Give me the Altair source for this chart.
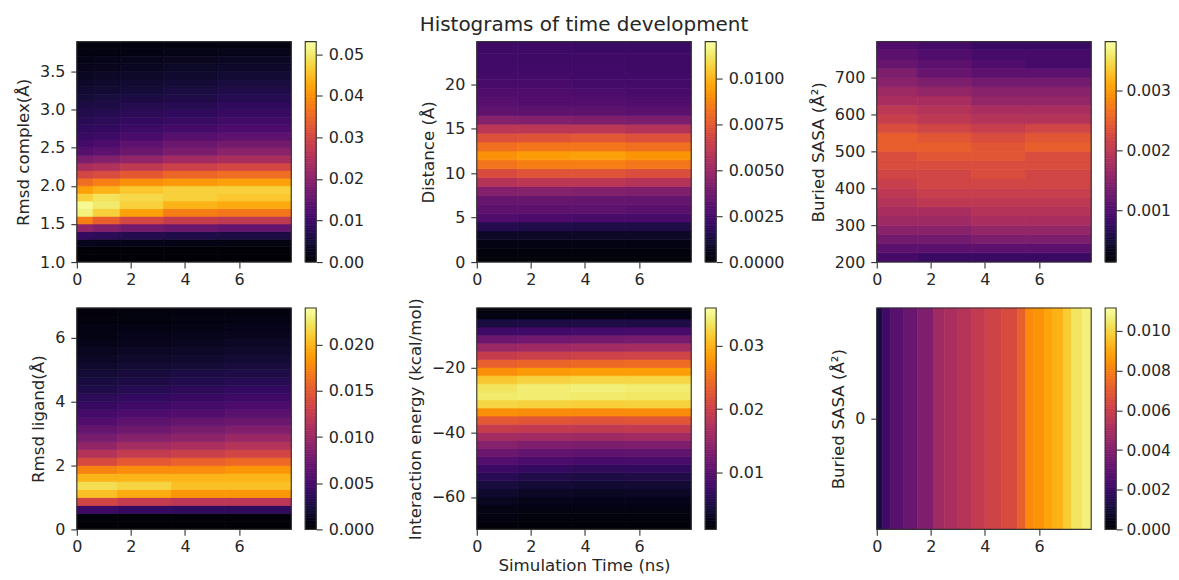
import altair as alt
import numpy as np
import pandas as pd

FONT = "DejaVu Sans"
INK = "#262626"
FRAME = "#333333"

# ---- Rmsd complex: rows bottom to top, columns across the time bins
t1 = [0, 0.6, 1.6, 3.2, 5.2, 7.93]
y1 = [1.0, 1.1, 1.2, 1.3, 1.4, 1.5, 1.6, 1.7, 1.8, 1.9, 2.0, 2.1, 2.2, 2.3, 2.4, 2.5, 2.6, 2.7, 2.8, 2.9,
      3.0, 3.1, 3.2, 3.3, 3.4, 3.5, 3.6, 3.7, 3.8, 3.89]
z1 = [
    [.0002, .0002, .0002, .0002, .0002],
    [.0004, .0004, .0004, .0004, .0004],
    [.0025, .0022, .002, .0018, .0016],
    [.009, .008, .007, .0065, .006],
    [.021, .019, .017, .016, .015],
    [.038, .034, .030, .028, .027],
    [.051, .047, .042, .038, .037],
    [.052, .050, .047, .044, .043],
    [.047, .049, .048, .047, .046],
    [.042, .044, .046, .047, .047],
    [.036, .038, .040, .041, .042],
    [.030, .031, .033, .035, .036],
    [.024, .025, .027, .029, .030],
    [.018, .019, .021, .023, .024],
    [.013, .014, .016, .018, .020],
    [.011, .012, .014, .016, .017],
    [.0095, .010, .0115, .013, .014],
    [.0085, .009, .010, .011, .012],
    [.0075, .008, .009, .0095, .0105],
    [.0068, .0072, .008, .0085, .0095],
    [.006, .0063, .007, .0075, .0085],
    [.0052, .0056, .006, .0066, .0075],
    [.0045, .0048, .0052, .0058, .0065],
    [.0038, .0042, .0045, .005, .0056],
    [.0032, .0035, .0038, .0042, .0048],
    [.0026, .0028, .0032, .0036, .004],
    [.002, .0022, .0025, .0028, .0032],
    [.0015, .0016, .0018, .0021, .0024],
    [.001, .0011, .0013, .0014, .0016],
]

# ---- Distance
t2 = [0, 1.5, 3.5, 5.5, 7.93]
y2 = [0, .5, 1.5, 2.5, 3.5, 4.5, 5.5, 6.5, 7.5, 8.5, 9.5, 10.5, 11.5, 12.5, 13.5, 14.5, 15.5, 16.5, 17.5, 18.5,
      19.5, 20.5, 21.5, 22.5, 23.5, 24.8]
z2 = [
    [.0001, .0001, .0001, .0001],
    [.0002, .0002, .0002, .0002],
    [.0004, .0004, .0004, .0004],
    [.0008, .0008, .0008, .0008],
    [.0016, .0015, .0014, .0014],
    [.0028, .0027, .0026, .0026],
    [.0032, .0032, .0032, .0031],
    [.0035, .0035, .0034, .0034],
    [.0043, .0044, .0043, .0042],
    [.0058, .0060, .0060, .0058],
    [.0070, .0073, .0073, .0071],
    [.0083, .0086, .0086, .0084],
    [.0091, .0094, .0095, .0092],
    [.0082, .0084, .0084, .0082],
    [.0072, .0073, .0074, .0072],
    [.0060, .0060, .0060, .0058],
    [.0044, .0043, .0042, .0041],
    [.0033, .0032, .0032, .0031],
    [.0030, .0029, .0029, .0028],
    [.0028, .0028, .0027, .0026],
    [.0026, .0026, .0025, .0025],
    [.0025, .0025, .0024, .0024],
    [.0024, .0024, .0024, .0023],
    [.0024, .0023, .0023, .0023],
    [.0023, .0023, .0022, .0022],
]

# ---- Buried SASA
t3 = [0, 1.5, 3.5, 5.5, 7.93]
y3 = [200, 225, 250, 275, 300, 325, 350, 375, 400, 425, 450, 475, 500, 525, 550, 575, 600, 625, 650, 675,
      700, 725, 750, 775, 797]
z3 = [
    [.0009, .0008, .0008, .0008],
    [.0011, .0011, .0011, .0011],
    [.0013, .0013, .0014, .0014],
    [.0015, .0015, .0016, .0016],
    [.0017, .0017, .0018, .0018],
    [.0018, .0018, .0019, .0019],
    [.0019, .0020, .0020, .0020],
    [.0020, .0021, .0021, .0021],
    [.0021, .0022, .0022, .0022],
    [.0022, .0022, .0023, .0022],
    [.0023, .0023, .0023, .0023],
    [.0023, .0024, .0024, .0023],
    [.0025, .0025, .0024, .0025],
    [.0025, .0024, .0023, .0024],
    [.0023, .0022, .0021, .0022],
    [.0021, .0020, .0019, .0019],
    [.0020, .0019, .0018, .0018],
    [.0018, .0018, .0016, .0016],
    [.0017, .0016, .0015, .0015],
    [.0015, .0014, .0013, .0013],
    [.0014, .0012, .0011, .0011],
    [.0012, .0011, .0010, .0009],
    [.0011, .0010, .0009, .0009],
    [.0010, .0009, .0008, .0008],
]

# ---- Rmsd ligand
t4 = [0, 1.5, 3.5, 5.5, 7.93]
y4 = [0, .25, .5, .75, 1, 1.25, 1.5, 1.75, 2, 2.25, 2.5, 2.75, 3, 3.25, 3.5, 3.75, 4, 4.25, 4.5, 4.75,
      5, 5.25, 5.5, 5.75, 6, 6.25, 6.5, 6.75, 6.94]
z4 = [
    [.0001, .0001, .0001, .0001],
    [.0003, .0003, .0003, .0003],
    [.0045, .0040, .0038, .0038],
    [.0135, .0125, .0120, .0120],
    [.0205, .0195, .0185, .0185],
    [.0220, .0215, .0205, .0205],
    [.0200, .0200, .0200, .0200],
    [.0175, .0180, .0180, .0185],
    [.0140, .0150, .0155, .0160],
    [.0115, .0125, .0130, .0135],
    [.0095, .0105, .0110, .0115],
    [.0080, .0088, .0092, .0100],
    [.0068, .0074, .0080, .0085],
    [.0058, .0064, .0068, .0072],
    [.0050, .0055, .0058, .0062],
    [.0042, .0047, .0050, .0054],
    [.0036, .0040, .0043, .0046],
    [.0030, .0034, .0037, .0040],
    [.0026, .0029, .0031, .0034],
    [.0022, .0025, .0027, .0029],
    [.0018, .0021, .0023, .0025],
    [.0015, .0018, .0019, .0021],
    [.0013, .0015, .0016, .0018],
    [.0010, .0012, .0013, .0015],
    [.0008, .0010, .0011, .0012],
    [.0007, .0008, .0009, .0010],
    [.0005, .0006, .0007, .0008],
    [.0004, .0005, .0006, .0006],
]

# ---- Interaction energy
t5 = [0, 1.5, 3.5, 5.5, 7.93]
y5 = [-70, -67.5, -65, -62.5, -60, -57.5, -55, -52.5, -50, -47.5, -45, -42.5, -40, -37.5, -35, -32.5, -30,
      -27.5, -25, -22.5, -20, -17.5, -15, -12.5, -10, -7.5, -5, -2.5, -1.6]
z5 = [
    [.0015, .0014, .0014, .0014],
    [.0019, .0017, .0017, .0017],
    [.0023, .0021, .0020, .0020],
    [.0029, .0026, .0025, .0025],
    [.0037, .0033, .0031, .0032],
    [.0047, .0042, .0040, .0041],
    [.0060, .0054, .0050, .0052],
    [.0075, .0068, .0065, .0067],
    [.0095, .0088, .0085, .0087],
    [.0115, .0108, .0105, .0107],
    [.0138, .0132, .0130, .0132],
    [.0165, .0162, .0160, .0162],
    [.0195, .0192, .0190, .0192],
    [.0228, .0225, .0222, .0225],
    [.0275, .0272, .0270, .0272],
    [.0325, .0322, .0320, .0322],
    [.0340, .0342, .0340, .0338],
    [.0335, .0342, .0345, .0342],
    [.0315, .0322, .0325, .0325],
    [.0275, .0282, .0285, .0285],
    [.0235, .0240, .0242, .0245],
    [.0195, .0200, .0202, .0205],
    [.0155, .0160, .0162, .0165],
    [.0115, .0120, .0122, .0125],
    [.0078, .0080, .0082, .0085],
    [.0048, .0050, .0052, .0052],
    [.0020, .0020, .0021, .0022],
    [.0014, .0014, .0014, .0014],
]

# ---- Buried SASA, single row across time
t6 = [0, .2, .5, 1, 1.5, 2.1, 2.5, 3, 3.5, 4, 4.6, 5.2, 5.5, 5.8, 6.2, 6.5, 6.9, 7.2, 7.6, 7.93]
y6 = [-0.5, 0.5]
z6 = [[.0012, .0022, .0028, .0033, .0039, .0048, .0051, .0054, .0058, .0062, .0065, .0072, .0083, .0085,
       .0089, .0092, .0098, .0104, .0107]]

x_ticks = [0, 2, 4, 6]
panels = [
    dict(t=t1, y=y1, z=z1, title="Rmsd complex(Å)", ydom=[1.0, 3.89], yticks=[1.0, 1.5, 2.0, 2.5, 3.0, 3.5], yfmt=".1f",
         cdom=[0, .053], cticks=[0, .01, .02, .03, .04, .05], cfmt=".2f", h=221),
    dict(t=t2, y=y2, z=z2, title="Distance (Å)", ydom=[0, 24.8], yticks=[0, 5, 10, 15, 20], yfmt="d",
         cdom=[0, .012], cticks=[0, .0025, .005, .0075, .01], cfmt=".4f", h=221),
    dict(t=t3, y=y3, z=z3, title="Buried SASA (Å²)", ydom=[200, 797], yticks=[200, 300, 400, 500, 600, 700], yfmt="d",
         cdom=[.00013, .00382], cticks=[.001, .002, .003], cfmt=".3f", h=221, cpad=4, csize=15.5),
    dict(t=t4, y=y4, z=z4, title="Rmsd ligand(Å)", ydom=[0, 6.94], yticks=[0, 2, 4, 6], yfmt="d",
         cdom=[0, .024], cticks=[0, .005, .01, .015, .02], cfmt=".3f", h=222),
    dict(t=t5, y=y5, z=z5, title="Interaction energy (kcal/mol)", ydom=[-70, -1.6], yticks=[-60, -40, -20], yfmt="d",
         cdom=[.001, .036], cticks=[.01, .02, .03], cfmt=".2f", h=222, xtitle="Simulation Time (ns)"),
    dict(t=t6, y=y6, z=z6, title="Buried SASA (Å²)", ydom=[-0.5, 0.5], yticks=[0], yfmt="d",
         cdom=[0, .01116], cticks=[0, .002, .004, .006, .008, .01], cfmt=".3f", h=222, cpad=4, csize=15.5),
]


def frame(w, h):
    return alt.Chart(pd.DataFrame({"a": [0]})).mark_rect(filled=False, stroke=FRAME, strokeWidth=1.1).encode(
        x=alt.value(0), x2=alt.value(w), y=alt.value(0), y2=alt.value(h))


def axis_common(pad=4):
    return dict(labelFont=FONT, labelFontSize=16, labelColor=INK, titleFont=FONT, titleFontSize=16.7,
                titleColor=INK, titleFontWeight="normal", tickColor=FRAME, tickSize=6, tickWidth=1.1,
                labelPadding=pad, titlePadding=7, grid=False, domain=False, labelOverlap=False,
                labelBound=False, labelFlush=False)


def heat(p):
    recs = []
    for i in range(len(p["y"]) - 1):
        for j in range(len(p["t"]) - 1):
            recs.append(dict(t0=p["t"][j], t1=p["t"][j + 1], y0=p["y"][i], y1=p["y"][i + 1], v=p["z"][i][j]))
    df = pd.DataFrame(recs)
    cscale = alt.Scale(scheme="inferno", domain=p["cdom"], clamp=True)
    rects = alt.Chart(df).mark_rect(strokeWidth=0.7).encode(
        x=alt.X("t0:Q", scale=alt.Scale(domain=[0, 7.93], nice=False, zero=False),
                axis=alt.Axis(values=x_ticks, format="d", **{**axis_common(3), "titlePadding": 3}), title=p.get("xtitle")),
        x2="t1:Q",
        y=alt.Y("y0:Q", scale=alt.Scale(domain=p["ydom"], nice=False, zero=False),
                axis=alt.Axis(values=p["yticks"], format=p["yfmt"], **axis_common(6)), title=p["title"]),
        y2="y1:Q",
        color=alt.Color("v:Q", scale=cscale, legend=None),
        stroke=alt.Stroke("v:Q", scale=cscale, legend=None),
    )
    return alt.layer(rects, frame(215, p["h"])).properties(width=215, height=p["h"])


def colorbar(p):
    edges = np.linspace(p["cdom"][0], p["cdom"][1], 129)
    df = pd.DataFrame({"a": edges[:-1], "b": edges[1:]})
    df["m"] = (df["a"] + df["b"]) / 2
    cscale = alt.Scale(scheme="inferno", domain=p["cdom"])
    ax = axis_common(p.get("cpad", 6))
    ax["labelFontSize"] = p.get("csize", 16)
    rects = alt.Chart(df).mark_rect(strokeWidth=0.7).encode(
        x=alt.value(0), x2=alt.value(11),
        y=alt.Y("a:Q", scale=alt.Scale(domain=p["cdom"], nice=False, zero=False),
                axis=alt.Axis(values=p["cticks"], format=p["cfmt"], orient="right", **ax), title=None),
        y2="b:Q",
        color=alt.Color("m:Q", scale=cscale, legend=None),
        stroke=alt.Stroke("m:Q", scale=cscale, legend=None),
    )
    return alt.layer(rects, frame(11, p["h"])).properties(width=11, height=p["h"])


def spacer(h):
    return alt.Chart(pd.DataFrame({"a": [0]})).mark_point(opacity=0).encode(
        x=alt.value(0), y=alt.value(0)).properties(width=133, height=h)


cells = []
for row in (panels[:3], panels[3:]):
    for k, p in enumerate(row):
        cells += [heat(p), colorbar(p)]
        if k < 2:
            cells.append(spacer(p["h"]))

chart = alt.concat(*cells, columns=8, spacing={"row": 46, "column": 14}, bounds="flush").resolve_scale(
    color="independent", stroke="independent"
).properties(
    title=alt.TitleParams("Histograms of time development", font=FONT, fontSize=20, fontWeight="normal",
                          color=INK, anchor="middle", dx=-9, offset=4),
    padding={"left": 7, "top": 6, "right": 0, "bottom": 0},
).configure_view(strokeWidth=0)

chart.save("out.html", embed_options={"renderer": "svg", "actions": False})
